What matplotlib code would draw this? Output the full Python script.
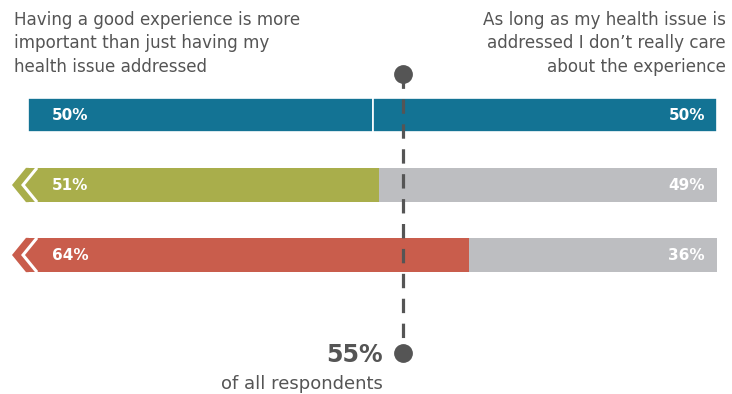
import matplotlib.pyplot as plt
from matplotlib.patches import Polygon

plt.rcParams['font.family'] = ['DejaVu Sans']

# share of respondents per group (left statement vs right statement)
left_pct = [50, 51, 64]
right_pct = [50, 49, 36]
left_colors = ['#137394', '#a9ae4b', '#c95d4c']
right_colors = ['#137394', '#bdbec1', '#bdbec1']
has_arrow = [False, True, True]
overall_pct = 55

left_head = ['Having a good experience is more',
             'important than just having my',
             'health issue addressed']
right_head = ['As long as my health issue is',
              'addressed I don\u2019t really care',
              'about the experience']

W, H = 732, 394
fig = plt.figure(figsize=(W / 100, H / 100), dpi=100)
ax = fig.add_axes([0, 0, 1, 1])

# 0% -> 28 px, 100% -> 717 px ; row i centred at 115 + 70 i px
px = 6.89
ax.set_xlim(-28 / px, (W - 28) / px)
ax.set_ylim((H - 115) / 70, -115 / 70)
ax.axis('off')

bar_h = 0.49
for i, (l, r) in enumerate(zip(left_pct, right_pct)):
    ax.barh(i, l, left=0, height=bar_h, color=left_colors[i],
            edgecolor='white' if i == 0 else 'none', linewidth=1.2)
    ax.barh(i, r, left=l, height=bar_h, color=right_colors[i],
            edgecolor='white' if i == 0 else 'none', linewidth=1.2)
    if has_arrow[i]:
        top, bot = i - bar_h / 2, i + bar_h / 2
        ax.add_patch(Polygon([(0.1, top), (-2 / px, top), (-16 / px, i),
                              (-2 / px, bot), (0.1, bot)],
                             closed=True, color=left_colors[i], lw=0))
        ax.plot([9 / px, -5 / px, 9 / px], [top, i, bot], color='white',
                lw=2.2, solid_joinstyle='miter', solid_capstyle='butt')
    ax.text(24 / px, i, f'{l}%', color='white', fontsize=11,
            fontweight='bold', va='center', ha='left')
    ax.text(100 - 12 / px, i, f'{r}%', color='white', fontsize=11,
            fontweight='bold', va='center', ha='right')

# marker line for all respondents
ax.plot([overall_pct - 0.6, overall_pct - 0.6], [-0.59, 3.4], color='#555555',
        lw=2.3, dashes=(4.5, 3.3), zorder=3)
ax.plot([overall_pct - 0.6] * 2, [-0.59, 3.4], 'o', color='#555555',
        markersize=12.5, zorder=4)

ax.text(overall_pct - 3.5, 3.43, f'{overall_pct}%', color='#555555', fontsize=17,
        fontweight='bold', ha='right', va='center')
ax.text(overall_pct - 3.5, 3.84, 'of all respondents', color='#555555',
        fontsize=13, ha='right', va='center')

for k, (lt, rt) in enumerate(zip(left_head, right_head)):
    y = 1 - (20 + 23.5 * k) / H
    fig.text(14 / W, y, lt, color='#555555', fontsize=12.1, ha='left', va='center')
    fig.text(726 / W, y, rt, color='#555555', fontsize=12.1, ha='right', va='center')

fig.savefig('out.png', dpi=100)
